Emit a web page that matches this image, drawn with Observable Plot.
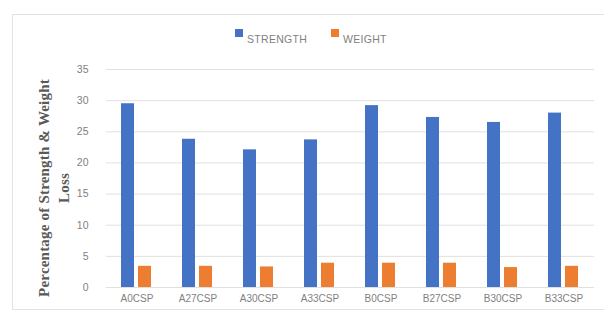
<!DOCTYPE html>
<html>
<head>
<meta charset="utf-8">
<script src="https://cdn.jsdelivr.net/npm/d3@7"></script>
<script src="https://cdn.jsdelivr.net/npm/@observablehq/plot@0.6"></script>
<style>
  body { margin: 0; background: #fff; }
  #wrap { position: relative; width: 604px; height: 322px; overflow: hidden; font-family: "Liberation Sans", Arial, sans-serif; }
  #frame { position: absolute; left: 12px; top: 14px; width: 600px; height: 296px; border: 1px solid #e3e3e3; box-sizing: border-box; }
  #chart { position: absolute; left: 0; top: 0; }
  .leg { position: absolute; top: 33px; font-size: 10.5px; color: #7f7f7f; letter-spacing: 0.3px; }
  .sw { position: absolute; top: 29px; width: 8px; height: 8px; }
  #ylab { position: absolute; left: 54px; top: 188px; transform: translate(-50%, -50%) rotate(-90deg); white-space: nowrap; text-align: center; font-family: "Liberation Serif", "Times New Roman", serif; font-weight: bold; font-size: 15px; line-height: 20px; color: #595959; letter-spacing: 0.2px; }
</style>
</head>
<body>
<div id="wrap">
  <div id="frame"></div>
  <div id="chart"></div>
  <div class="sw" style="left:235px;background:#4472c4"></div>
  <div class="leg" style="left:247px">STRENGTH</div>
  <div class="sw" style="left:331px;background:#ed7d31"></div>
  <div class="leg" style="left:343px">WEIGHT</div>
  <div id="ylab">Percentage of Strength &amp; Weight<br>Loss</div>
</div>
<script>
const categories = ["A0CSP", "A27CSP", "A30CSP", "A33CSP", "B0CSP", "B27CSP", "B30CSP", "B33CSP"];
const seriesNames = ["STRENGTH", "WEIGHT"];
const strength = [29.5, 23.8, 22.1, 23.7, 29.2, 27.3, 26.5, 28.0];
const weight = [3.4, 3.4, 3.3, 3.9, 3.9, 3.9, 3.2, 3.4];
const yTicks = [0, 5, 10, 15, 20, 25, 30, 35];
const colors = ["#4472c4", "#ed7d31"];

const data = [];
categories.forEach((c, i) => {
  data.push({cat: c, series: seriesNames[0], value: strength[i]});
  data.push({cat: c, series: seriesNames[1], value: weight[i]});
});

const chart = Plot.plot({
  width: 604,
  height: 322,
  marginLeft: 106,
  marginRight: 10,
  marginTop: 69,
  marginBottom: 35,
  style: {fontFamily: "Liberation Sans, Arial, sans-serif", fontSize: "10px", color: "#7f7f7f", background: "transparent"},
  fx: {domain: categories, padding: 0, label: null},
  x: {domain: seriesNames, paddingInner: 0.23, paddingOuter: 0.86, axis: null},
  y: {domain: [0, 35], label: null},
  color: {domain: seriesNames, range: colors},
  marks: [
    Plot.gridY(yTicks, {stroke: "#e0e0e0", strokeOpacity: 1, strokeWidth: 1}),
    Plot.axisY(yTicks, {tickSize: 0, tickPadding: 18, fill: "#7f7f7f", fontSize: 10.5, label: null}),
    Plot.axisFx({anchor: "bottom", tickSize: 0, tickPadding: 7, fill: "#7f7f7f", fontSize: 10, label: null}),
    Plot.barY(data, {fx: "cat", x: "series", y: "value", fill: "series"})
  ]
});
document.getElementById("chart").appendChild(chart);
</script>
</body>
</html>
